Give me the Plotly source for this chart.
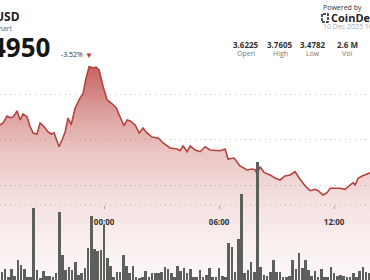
import plotly.graph_objects as go
import numpy as np

# ---- data ----
# price: hours relative to 10 Dec 00:00, values in USD
price_hours = [-5.43, -5.27, -5.06, -4.90, -4.75, -4.54, -4.38, -4.23, -4.02, -3.86,
               -3.70, -3.50, -3.34, -3.13, -2.92, -2.76, -2.61, -2.45, -2.35, -2.19,
               -2.03, -1.88, -1.72, -1.51, -1.25, -1.10, -0.94, -0.78, -0.57, -0.42,
               -0.26, -0.05, 0.16, 0.37, 0.63, 0.83, 1.04, 1.20, 1.36, 1.62,
               1.83, 2.03, 2.24, 2.50, 2.82, 3.08, 3.44, 3.81, 3.96, 4.12,
               4.33, 4.49, 4.75, 5.01, 5.27, 5.53, 5.69, 6.05, 6.31, 6.47,
               6.78, 7.09, 7.46, 7.72, 7.88, 7.98, 8.14, 8.35, 8.66, 8.92,
               9.18, 9.44, 9.70, 9.96, 10.22, 10.49, 10.75, 11.01, 11.16, 11.42,
               11.63, 11.79, 12.31, 12.57, 12.83, 12.99, 13.09, 13.25, 13.46, 13.77, 13.88]
price_values = [3.6319, 3.6363, 3.6516, 3.6479, 3.6495, 3.6626, 3.6429, 3.6560, 3.6501, 3.6281,
                3.6143, 3.6121, 3.6363, 3.6281, 3.6165, 3.6121, 3.6149, 3.5952, 3.5842, 3.5989,
                3.6171, 3.6473, 3.6319, 3.6692, 3.6912, 3.7000, 3.7352, 3.7605, 3.7571, 3.7590,
                3.7527, 3.7160, 3.6868, 3.6802, 3.6699, 3.6501, 3.6303, 3.6429, 3.6407, 3.6319,
                3.6143, 3.6253, 3.6143, 3.6055, 3.6033, 3.5923, 3.5813, 3.5791, 3.5754, 3.5857,
                3.5732, 3.5857, 3.5769, 3.5732, 3.5842, 3.5769, 3.5769, 3.5754, 3.5791, 3.5571,
                3.5593, 3.5418, 3.5330, 3.5352, 3.5330, 3.5242, 3.5402, 3.5270, 3.5220, 3.5154,
                3.5110, 3.5198, 3.5220, 3.5292, 3.5125, 3.4978, 3.4875, 3.4905, 3.4875, 3.4782,
                3.4831, 3.4927, 3.4927, 3.4905, 3.5000, 3.5051, 3.5000, 3.5147, 3.5198, 3.5257, 3.5270]

# volume per 10-minute bar (thousands), first bar at 18:40 on 9 Dec
vol_first_hour = -5 - 20 / 60
vol_step_hours = 10 / 60
vol_values = [8, 11, 3, 11, 4, 20, 15, 11, 3, 3,
              72, 10, 2, 9, 4, 4, 3, 7, 68, 25,
              10, 13, 10, 18, 5, 7, 12, 32, 64, 31,
              29, 30, 55, 22, 14, 3, 8, 8, 25, 14,
              7, 14, 3, 2, 3, 9, 3, 7, 7, 7,
              8, 13, 11, 7, 3, 14, 9, 12, 7, 11,
              3, 3, 10, 3, 5, 12, 3, 3, 12, 4,
              3, 37, 33, 8, 41, 86, 7, 10, 18, 8,
              118, 13, 5, 4, 8, 20, 8, 8, 3, 3,
              4, 20, 11, 27, 12, 20, 10, 4, 9, 3,
              11, 3, 3, 13, 7, 4, 5, 4, 3, 3,
              7, 3, 9, 13, 8, 7]
vol_hours = [vol_first_hour + i * vol_step_hours for i in range(len(vol_values))]

grid_prices = [3.5, 3.6, 3.7]
tick_hours = [0, 6, 12]
tick_labels = ["00:00", "06:00", "12:00"]
stat_values = ["3.6225", "3.7605", "3.4782", "2.6 M"]
stat_labels = ["Open", "High", "Low", "Vol"]

# ---- figure ----
W, H = 370, 280
FONT = "Open Sans"

fig = go.Figure()

fig.add_trace(go.Scatter(
    x=price_hours, y=price_values, mode="lines",
    line=dict(color="#b8423d", width=1.6),
    fill="tozeroy",
    fillgradient=dict(
        type="vertical",
        start=3.2912, stop=3.7605,
        colorscale=[
            [0.0, "rgba(185,65,60,0.04)"],
            [0.19, "rgba(185,65,60,0.09)"],
            [0.37, "rgba(185,65,60,0.16)"],
            [0.61, "rgba(185,65,60,0.31)"],
            [0.80, "rgba(185,65,60,0.52)"],
            [1.0, "rgba(185,65,60,0.82)"],
        ],
    ),
    hoverinfo="skip", showlegend=False,
))

fig.add_trace(go.Bar(
    x=vol_hours, y=vol_values, yaxis="y2",
    width=vol_step_hours * 0.82,
    marker=dict(color="#5d5f5b", line=dict(width=0)),
    hoverinfo="skip", showlegend=False,
))


def px(x):
    return x / W


def py(y):
    return 1 - y / H


ann = []
ann.append(dict(text="<b>USD</b>", x=px(22), y=py(16.5), xanchor="right", yanchor="middle",
                font=dict(family=FONT, size=12, color="#1c1c1c")))
ann.append(dict(text="Chart", x=px(14), y=py(29), xanchor="right", yanchor="middle",
                font=dict(family=FONT, size=7, color="#666666")))
ann.append(dict(text="<b>4950</b>", x=px(52), y=py(47), xanchor="right", yanchor="middle",
                font=dict(family=FONT, size=26, color="#161616")))
ann.append(dict(text="-3.52%", x=px(59), y=py(54.5), xanchor="left", yanchor="middle",
                font=dict(family=FONT, size=7, color="#333333")))
ann.append(dict(text="▼", x=px(89), y=py(55), xanchor="center", yanchor="middle",
                font=dict(family=FONT, size=8, color="#c0392b")))
ann.append(dict(text="Powered by", x=px(321), y=py(7), xanchor="left", yanchor="middle",
                font=dict(family=FONT, size=7, color="#333333")))
ann.append(dict(text="<b>CoinDesk</b>", x=px(329), y=py(17.5), xanchor="left", yanchor="middle",
                font=dict(family=FONT, size=11, color="#1e1e1e")))
ann.append(dict(text="10 Dec 2025 16:00 UTC", x=px(321), y=py(27), xanchor="left", yanchor="middle",
                font=dict(family=FONT, size=7, color="#aaaaaa")))
stat_x = [246, 280, 313, 347]
for sx, v, lab in zip(stat_x, stat_values, stat_labels):
    ann.append(dict(text="<b>%s</b>" % v, x=px(sx), y=py(44), xanchor="center", yanchor="middle",
                    font=dict(family=FONT, size=8, color="#333333")))
    ann.append(dict(text=lab, x=px(sx), y=py(54), xanchor="center", yanchor="middle",
                    font=dict(family=FONT, size=7, color="#777777")))
for a in ann:
    a.update(xref="paper", yref="paper", showarrow=False)

shapes = [
    # dotted base line of price pane
    dict(type="line", xref="paper", yref="paper", x0=0, x1=1, y0=py(205), y1=py(205),
         line=dict(color="#c8c8c8", width=1, dash="1px,4px"), layer="below"),
    # CoinDesk logo mark
    dict(type="rect", xref="paper", yref="paper", x0=px(322), x1=px(328), y0=py(22), y1=py(14),
         line=dict(color="#1e1e1e", width=1.5, dash="3px,1px")),
]

fig.update_layout(
    width=W, height=H,
    margin=dict(l=0, r=0, t=0, b=0),
    paper_bgcolor="white", plot_bgcolor="white",
    xaxis=dict(range=[-5.43, 13.87], anchor="free", position=py(205),
               showgrid=False, zeroline=False, showline=False,
               tickvals=tick_hours, ticktext=tick_labels,
               ticks="outside", ticklen=3, tickcolor="#aaaaaa", tickwidth=1,
               ticklabelstandoff=6,
               tickfont=dict(family=FONT, size=8, color="#333333", weight="bold")),
    yaxis=dict(range=[3.2912, 3.9066], domain=[0, 1],
               tickvals=grid_prices, showticklabels=False,
               showgrid=True, gridcolor="#c8c8c8", griddash="1px,4px", gridwidth=1,
               zeroline=False, showline=False),
    yaxis2=dict(range=[0, 280], overlaying="y", visible=False, domain=[0, 1]),
    bargap=0,
    annotations=ann,
    shapes=shapes,
)

fig.write_html("out.html")
